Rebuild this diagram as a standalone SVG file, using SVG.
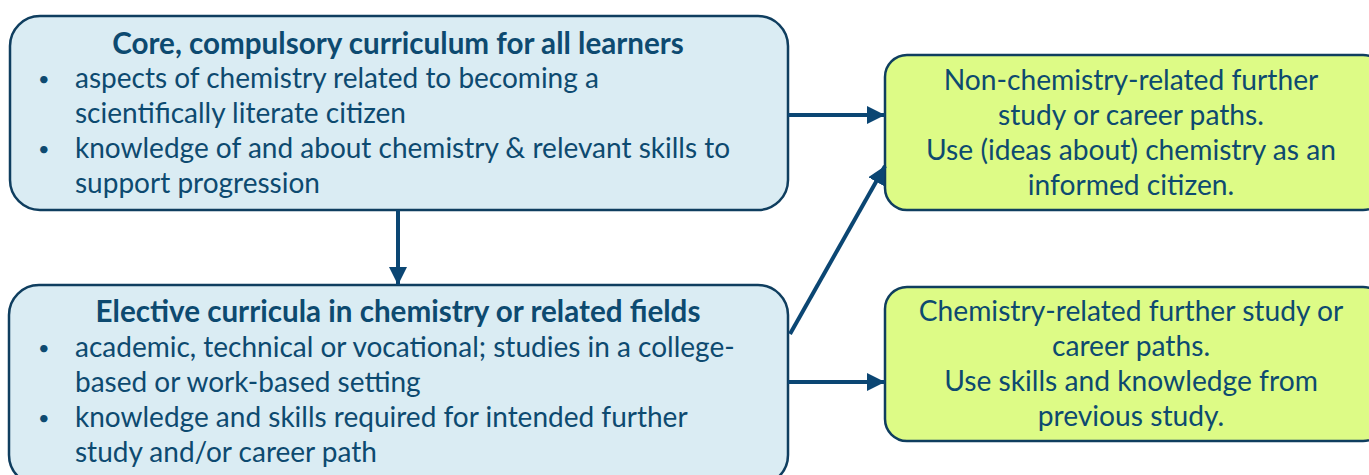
<svg xmlns="http://www.w3.org/2000/svg" width="1369" height="475" viewBox="0 0 1369 475">
<style>
.blue{fill:#daecf3;stroke:#0f3e5f;stroke-width:2.5}
.green{fill:#ddfb86;stroke:#0f3e5f;stroke-width:2.5}
text{font-family:Lato,"Open Sans",sans-serif;font-size:28px;fill:#0d4a70}
.b{font-weight:bold;font-size:29.6px}
.c{text-anchor:middle}
.g{font-size:28.2px}
.dot{font-size:20px}
.conn{stroke:#0b4673;stroke-width:4;fill:none;marker-end:url(#ah)}
</style>
<defs>
<marker id="ah" viewBox="0 0 10 10" refX="10" refY="5" markerWidth="4.5" markerHeight="4.5" markerUnits="strokeWidth" orient="auto">
<path d="M0,0 L10,5 L0,10 Z" fill="#0b4673"/>
</marker>
</defs>
<g id="core">
<rect class="blue" x="10" y="16" width="778" height="194" rx="30"/>
<text class="b c" x="398" y="54">Core, compulsory curriculum for all learners</text>
<text class="dot" x="38" y="86">•</text>
<text x="75" y="88">aspects of chemistry related to becoming a</text>
<text x="75" y="123">scientifically literate citizen</text>
<text class="dot" x="38" y="156">•</text>
<text x="75" y="158">knowledge of and about chemistry &amp; relevant skills to</text>
<text x="75" y="193">support progression</text>
</g>
<g id="elective">
<rect class="blue" x="9" y="285" width="779" height="200" rx="30"/>
<text class="b c" x="398" y="322">Elective curricula in chemistry or related fields</text>
<text class="dot" x="38" y="355">•</text>
<text x="75" y="357">academic, technical or vocational; studies in a college-</text>
<text x="75" y="392">based or work-based setting</text>
<text class="dot" x="38" y="425">•</text>
<text x="75" y="427">knowledge and skills required for intended further</text>
<text x="75" y="462">study and/or career path</text>
</g>
<g id="nonchem">
<rect class="green" x="885" y="55" width="500" height="155" rx="22"/>
<text class="c g" x="1131" y="90">Non-chemistry-related further</text>
<text class="c g" x="1131" y="125">study or career paths.</text>
<text class="c g" x="1131" y="160">Use (ideas about) chemistry as an</text>
<text class="c g" x="1131" y="195">informed citizen.</text>
</g>
<g id="chem">
<rect class="green" x="885" y="287" width="500" height="154" rx="22"/>
<text class="c g" x="1131" y="321">Chemistry-related further study or</text>
<text class="c g" x="1131" y="356">career paths.</text>
<text class="c g" x="1131" y="391">Use skills and knowledge from</text>
<text class="c g" x="1131" y="426">previous study.</text>
</g>
<g id="connectors">
<line class="conn" x1="788" y1="115" x2="885" y2="115"/>
<line class="conn" x1="398" y1="210" x2="398" y2="285"/>
<line class="conn" x1="790" y1="334" x2="885" y2="166"/>
<line class="conn" x1="788" y1="382" x2="885" y2="382"/>
</g>
</svg>
